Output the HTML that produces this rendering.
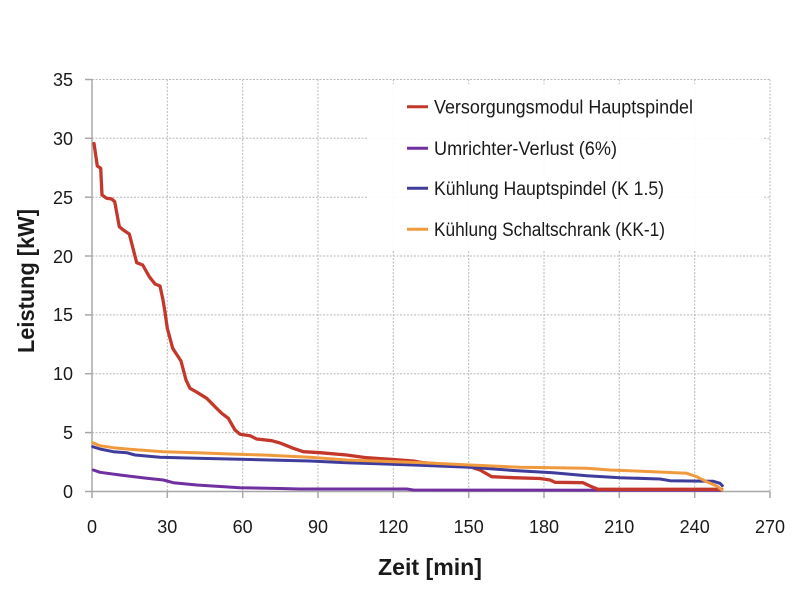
<!DOCTYPE html>
<html>
<head>
<meta charset="utf-8">
<style>
html,body{margin:0;padding:0;background:#fff;}
svg{display:block;}
text{font-family:"Liberation Sans",sans-serif;fill:#1a1a1a;}
</style>
</head>
<body>
<svg width="800" height="599" viewBox="0 0 800 599" xmlns="http://www.w3.org/2000/svg">
<rect x="0" y="0" width="800" height="599" fill="#fff"/>
<!-- horizontal gridlines -->
<g stroke="#b8b8b8" stroke-width="1" stroke-dasharray="2,1.5">
<line x1="92" y1="79.5" x2="770" y2="79.5"/>
<line x1="92" y1="138.3" x2="770" y2="138.3"/>
<line x1="92" y1="197.2" x2="770" y2="197.2"/>
<line x1="92" y1="256" x2="770" y2="256"/>
<line x1="92" y1="314.9" x2="770" y2="314.9"/>
<line x1="92" y1="373.7" x2="770" y2="373.7"/>
<line x1="92" y1="432.6" x2="770" y2="432.6"/>
</g>
<!-- vertical gridlines -->
<g stroke="#b8b8b8" stroke-width="1" stroke-dasharray="2,1.5">
<line x1="167.3" y1="79.5" x2="167.3" y2="491.5"/>
<line x1="242.7" y1="79.5" x2="242.7" y2="491.5"/>
<line x1="318" y1="79.5" x2="318" y2="491.5"/>
<line x1="393.3" y1="79.5" x2="393.3" y2="491.5"/>
<line x1="468.7" y1="79.5" x2="468.7" y2="491.5"/>
<line x1="544" y1="79.5" x2="544" y2="491.5"/>
<line x1="619.3" y1="79.5" x2="619.3" y2="491.5"/>
<line x1="694.7" y1="79.5" x2="694.7" y2="491.5"/>
<line x1="770" y1="79.5" x2="770" y2="491.5"/>
</g>
<!-- axes -->
<g stroke="#a8a8a8" stroke-width="1.5">
<line x1="92" y1="79" x2="92" y2="492"/>
<line x1="85" y1="491.5" x2="770" y2="491.5"/>
<line x1="85" y1="79.5" x2="92" y2="79.5"/>
<line x1="85" y1="138.3" x2="92" y2="138.3"/>
<line x1="85" y1="197.2" x2="92" y2="197.2"/>
<line x1="85" y1="256" x2="92" y2="256"/>
<line x1="85" y1="314.9" x2="92" y2="314.9"/>
<line x1="85" y1="373.7" x2="92" y2="373.7"/>
<line x1="85" y1="432.6" x2="92" y2="432.6"/>
<line x1="92" y1="491.5" x2="92" y2="498"/>
<line x1="167.3" y1="491.5" x2="167.3" y2="498"/>
<line x1="242.7" y1="491.5" x2="242.7" y2="498"/>
<line x1="318" y1="491.5" x2="318" y2="498"/>
<line x1="393.3" y1="491.5" x2="393.3" y2="498"/>
<line x1="468.7" y1="491.5" x2="468.7" y2="498"/>
<line x1="544" y1="491.5" x2="544" y2="498"/>
<line x1="619.3" y1="491.5" x2="619.3" y2="498"/>
<line x1="694.7" y1="491.5" x2="694.7" y2="498"/>
<line x1="770" y1="491.5" x2="770" y2="498"/>
</g>
<!-- y tick labels -->
<g font-size="18" text-anchor="end">
<text x="73" y="86">35</text>
<text x="73" y="145">30</text>
<text x="73" y="204">25</text>
<text x="73" y="263">20</text>
<text x="73" y="321">15</text>
<text x="73" y="380">10</text>
<text x="73" y="439">5</text>
<text x="73" y="498">0</text>
</g>
<!-- x tick labels -->
<g font-size="18" text-anchor="middle">
<text x="92" y="533">0</text>
<text x="167.3" y="533">30</text>
<text x="242.7" y="533">60</text>
<text x="318" y="533">90</text>
<text x="393.3" y="533">120</text>
<text x="468.7" y="533">150</text>
<text x="544" y="533">180</text>
<text x="619.3" y="533">210</text>
<text x="694.7" y="533">240</text>
<text x="770" y="533">270</text>
</g>
<!-- axis titles -->
<text x="378" y="575" font-size="23" font-weight="bold" textLength="104" lengthAdjust="spacingAndGlyphs">Zeit [min]</text>
<text transform="translate(34,353) rotate(-90)" x="0" y="0" font-size="23" font-weight="bold" textLength="144" lengthAdjust="spacingAndGlyphs">Leistung [kW]</text>
<!-- legend background -->
<rect x="367" y="84" width="396" height="166" fill="#fff" fill-opacity="0.92"/>
<!-- series -->
<g fill="none" stroke-linejoin="round" stroke-linecap="round" stroke-width="3">
<polyline stroke="#7030a0" points="93.3,470 100,472.3 120,475 146.7,478.3 163.3,480 173.3,482.7 196.7,485 240,487.7 280,488.5 300,489 406.7,489 413.3,490 721.7,490.3"/>
<polyline stroke="#c3382a" stroke-width="3.3" points="94,143.5 97.3,166 100.7,168.3 102,195 106.7,198.3 111.7,199 114.7,201.7 119.3,226.7 123.3,230 129.3,234 136.7,262.7 142.7,265 149.3,276.7 155,284 160,286 163,300 165,312 167.3,328.3 172.7,348.3 181,361 186,380 190,388.3 196,391.7 206.7,398.3 215,406.7 221.7,413.3 228.3,418.3 235,430 240,434.3 250,435.7 256.7,439 271.7,440.7 280,443 293.3,448.3 303.3,451.7 320,452.7 346.7,455 366.7,457.7 390,459.3 413.3,461 423.3,462.7 470,466.7 480,470 491.7,476.7 513.3,477.7 540,478.5 550,480 555,482.3 583,482.7 590,486 598,489.3 721.7,489.3"/>
<polyline stroke="#3f3c9c" points="92.7,446.7 100,449 113.3,451.7 126.7,452.7 135,455 160,457.3 196.7,458.3 240,459.3 310,461 346.7,462.7 413.3,465 470,467.3 513.3,470.5 553,472.7 586.7,475.7 620,477.7 660,479 670,480.7 713,481.2 720,483.3 722.3,485.7"/>
<polyline stroke="#f09a3e" points="92.7,442.7 100,445.7 113.3,447.7 130,449.3 163.3,451.7 196.7,452.7 230,454 263.3,455 310,457.3 346.7,460 423.3,462.7 470,465 520,467.3 586.7,468.3 610,470 653.3,471.7 686.7,473.3 696.7,476.7 706.7,481.7 716.7,486 722,490"/>
</g>
<!-- legend -->
<g stroke-width="3">
<line x1="407" y1="106.7" x2="428" y2="106.7" stroke="#c3382a"/>
<line x1="407" y1="148.3" x2="428" y2="148.3" stroke="#7030a0"/>
<line x1="407" y1="188.3" x2="428" y2="188.3" stroke="#3f3c9c"/>
<line x1="407" y1="229.3" x2="428" y2="229.3" stroke="#f09a3e"/>
</g>
<g font-size="19">
<text x="434" y="113.5" textLength="259" lengthAdjust="spacingAndGlyphs">Versorgungsmodul Hauptspindel</text>
<text x="434" y="155" textLength="183" lengthAdjust="spacingAndGlyphs">Umrichter-Verlust (6%)</text>
<text x="434" y="195" textLength="230" lengthAdjust="spacingAndGlyphs">Kühlung Hauptspindel (K 1.5)</text>
<text x="434" y="236" textLength="231" lengthAdjust="spacingAndGlyphs">Kühlung Schaltschrank (KK-1)</text>
</g>
</svg>
</body>
</html>
